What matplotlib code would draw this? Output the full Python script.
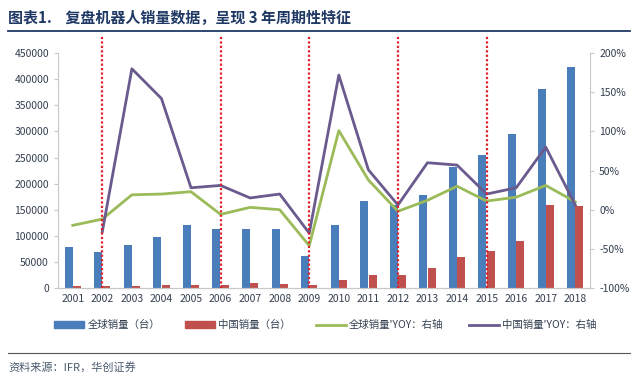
import numpy as np
import matplotlib.pyplot as plt
from matplotlib.patches import Patch
from matplotlib.lines import Line2D
import matplotlib.ticker as mticker

plt.rcParams['font.family'] = ['Noto Sans CJK SC', 'DejaVu Sans']

years = [str(y) for y in range(2001, 2019)]
global_sales = [78500, 69600, 81700, 98300, 120600, 112300, 113600, 113600, 61300,
                120600, 166600, 159000, 178700, 231000, 255000, 295000, 382000, 422500]
china_sales = [3000, 3000, 3500, 5500, 5500, 6500, 9000, 8000, 6000,
               15000, 25000, 25500, 38000, 59000, 71500, 90000, 159500, 157000]
global_yoy = [-20, -12, 19, 20, 23, -6, 3, 0, -46,
              101, 38, -2, 12, 30, 11, 16, 31, 10]
china_yoy = [np.nan, -28, 180, 142, 28, 31, 15, 20, -30,
             172, 51, 6, 60, 57, 20, 28, 80, 6]
cycle_years = ['2002', '2006', '2009', '2012', '2015']

c_blue = '#4A7EBB'
c_red = '#C0504D'
c_green = '#9BBB59'
c_purple = '#6A5A8E'
txt = '#333F50'

fig = plt.figure(figsize=(6.4, 3.85), dpi=100)
ax = fig.add_axes([0.0906, 0.252, 0.8314, 0.61])
ax2 = ax.twinx()

x = np.arange(len(years))
w = 0.27
ax.bar(x - 0.14, global_sales, w, color=c_blue, zorder=2)
ax.bar(x + 0.14, china_sales, w, color=c_red, zorder=2)
ax.set_ylim(0, 450000)
ax.set_xlim(-0.5, len(years) - 0.5)
ax.set_yticks(np.arange(0, 450001, 50000))
ax.set_xticks(x)
ax.set_xticklabels(years)

ax2.plot(x, global_yoy, color=c_green, lw=2, zorder=3)
ax2.plot(x, china_yoy, color=c_purple, lw=2, zorder=3)
ax2.set_ylim(-100, 200)
ax2.set_yticks(np.arange(-100, 201, 50))
ax2.yaxis.set_major_formatter(mticker.FuncFormatter(lambda v, p: '%d%%' % v))

# 周期分界线
for yr in cycle_years:
    i = years.index(yr)
    ax2.plot([i, i], [0, 1.072], color='#E0202A', lw=1.6, ls=(0, (1, 1)),
             transform=ax2.get_xaxis_transform(), clip_on=False, zorder=5)

for a in (ax, ax2):
    a.spines['top'].set_visible(False)
    for s in ('left', 'right', 'bottom'):
        a.spines[s].set_color('#C8C8C8')
    a.tick_params(labelsize=7.5, colors='#C8C8C8', labelcolor=txt, length=3)
ax.tick_params(axis='x', length=0, pad=4)
ax.spines['right'].set_visible(False)
ax2.spines['left'].set_visible(False)

handles = [Patch(color=c_blue), Patch(color=c_red),
           Line2D([], [], color=c_green, lw=2), Line2D([], [], color=c_purple, lw=2)]
labels = ['全球销量（台）', '中国销量（台）', "全球销量'YOY：右轴", "中国销量'YOY：右轴"]
fig.legend(handles, labels, loc='center', bbox_to_anchor=(0.508, 0.155), ncol=4,
           frameon=False, fontsize=7.5, handlelength=2.9, handleheight=0.6,
           columnspacing=2.4, handletextpad=0.3, labelcolor=txt)

fig.text(0.013, 0.952, '图表1.    复盘机器人销量数据，呈现 3 年周期性特征',
         fontsize=10.8, fontweight='bold', color='#1F3864', va='center')
fig.add_artist(Line2D([0.013, 0.985], [0.92, 0.92], color='#1F3864', lw=1.3))
fig.add_artist(Line2D([0.013, 0.985], [0.083, 0.083], color='#555555', lw=0.8))
fig.text(0.013, 0.045, '资料来源：IFR，华创证券', fontsize=8, color='#4A5A70',
         style='italic', va='center')

plt.savefig('out.png', dpi=100)
